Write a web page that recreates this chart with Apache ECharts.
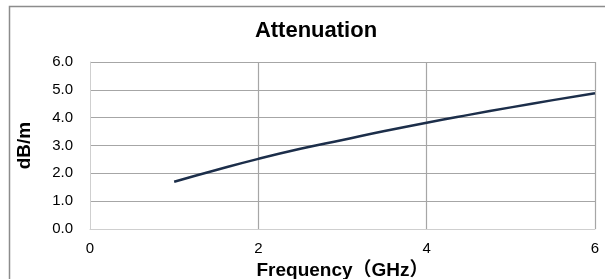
<!DOCTYPE html>
<html>
<head>
<meta charset="utf-8">
<script src="https://cdn.jsdelivr.net/npm/echarts@6/dist/echarts.min.js"></script>
<style>
  html, body { margin: 0; padding: 0; background: #fff; }
  #chart { width: 605px; height: 279px; }
</style>
</head>
<body>
<div id="chart"></div>
<script>
// values
const freqGHz = [1, 1.5, 2, 2.5, 3, 3.5, 4, 4.5, 5, 5.5, 6];
const attenDbPerM = [1.7, 2.12, 2.52, 2.88, 3.2, 3.52, 3.82, 4.1, 4.37, 4.63, 4.88];
const titleText = "Attenuation";
const xName = "Frequency（GHz）";
const yName = "dB/m";

const font = "'Liberation Sans', Arial, 'Noto Sans CJK SC', sans-serif";
const chart = echarts.init(document.getElementById("chart"));

chart.setOption({
  animation: false,
  title: {
    text: titleText,
    left: 311,
    top: 15,
    textAlign: "center",
    textStyle: { fontFamily: font, fontSize: 22, fontWeight: "bold", color: "#000" },
  },
  // outer frame of the chart area
  graphic: [
    {
      type: "rect",
      shape: { x: 9.5, y: 6.5, width: 640, height: 320 },
      style: { fill: "none", stroke: "#8c8c8c", lineWidth: 1.5 },
      silent: true,
    },
  ],
  grid: { left: 90, right: 10, top: 62, bottom: 50, outerBoundsMode: "none" },
  xAxis: {
    type: "value",
    min: 0,
    max: 6,
    interval: 2,
    name: xName,
    nameLocation: "middle",
    nameGap: 27,
    nameTextStyle: { fontFamily: font, fontSize: 19, fontWeight: "bold", color: "#000" },
    axisLine: { show: true, lineStyle: { color: "#cfcfcf", width: 1 } },
    axisTick: { show: false },
    axisLabel: { fontFamily: font, fontSize: 15, color: "#000", margin: 12 },
    splitLine: { show: true, showMinLine: false, lineStyle: { color: "#a6a6a6", width: 1.2 } },
  },
  yAxis: {
    type: "value",
    min: 0,
    max: 6,
    interval: 1,
    name: yName,
    nameLocation: "middle",
    nameGap: 56,
    nameTextStyle: { fontFamily: font, fontSize: 19, fontWeight: "bold", color: "#000" },
    axisLine: { show: true, lineStyle: { color: "#cfcfcf", width: 1 } },
    axisTick: { show: false },
    axisLabel: {
      fontFamily: font,
      fontSize: 15,
      color: "#000",
      margin: 17,
      formatter: (v) => v.toFixed(1),
    },
    splitLine: { show: true, showMinLine: false, lineStyle: { color: "#a6a6a6", width: 1.2 } },
  },
  series: [
    {
      type: "line",
      data: freqGHz.map((f, i) => [f, attenDbPerM[i]]),
      smooth: true,
      showSymbol: false,
      lineStyle: { color: "#1c2e4a", width: 2.5 },
    },
  ],
});
</script>
</body>
</html>
